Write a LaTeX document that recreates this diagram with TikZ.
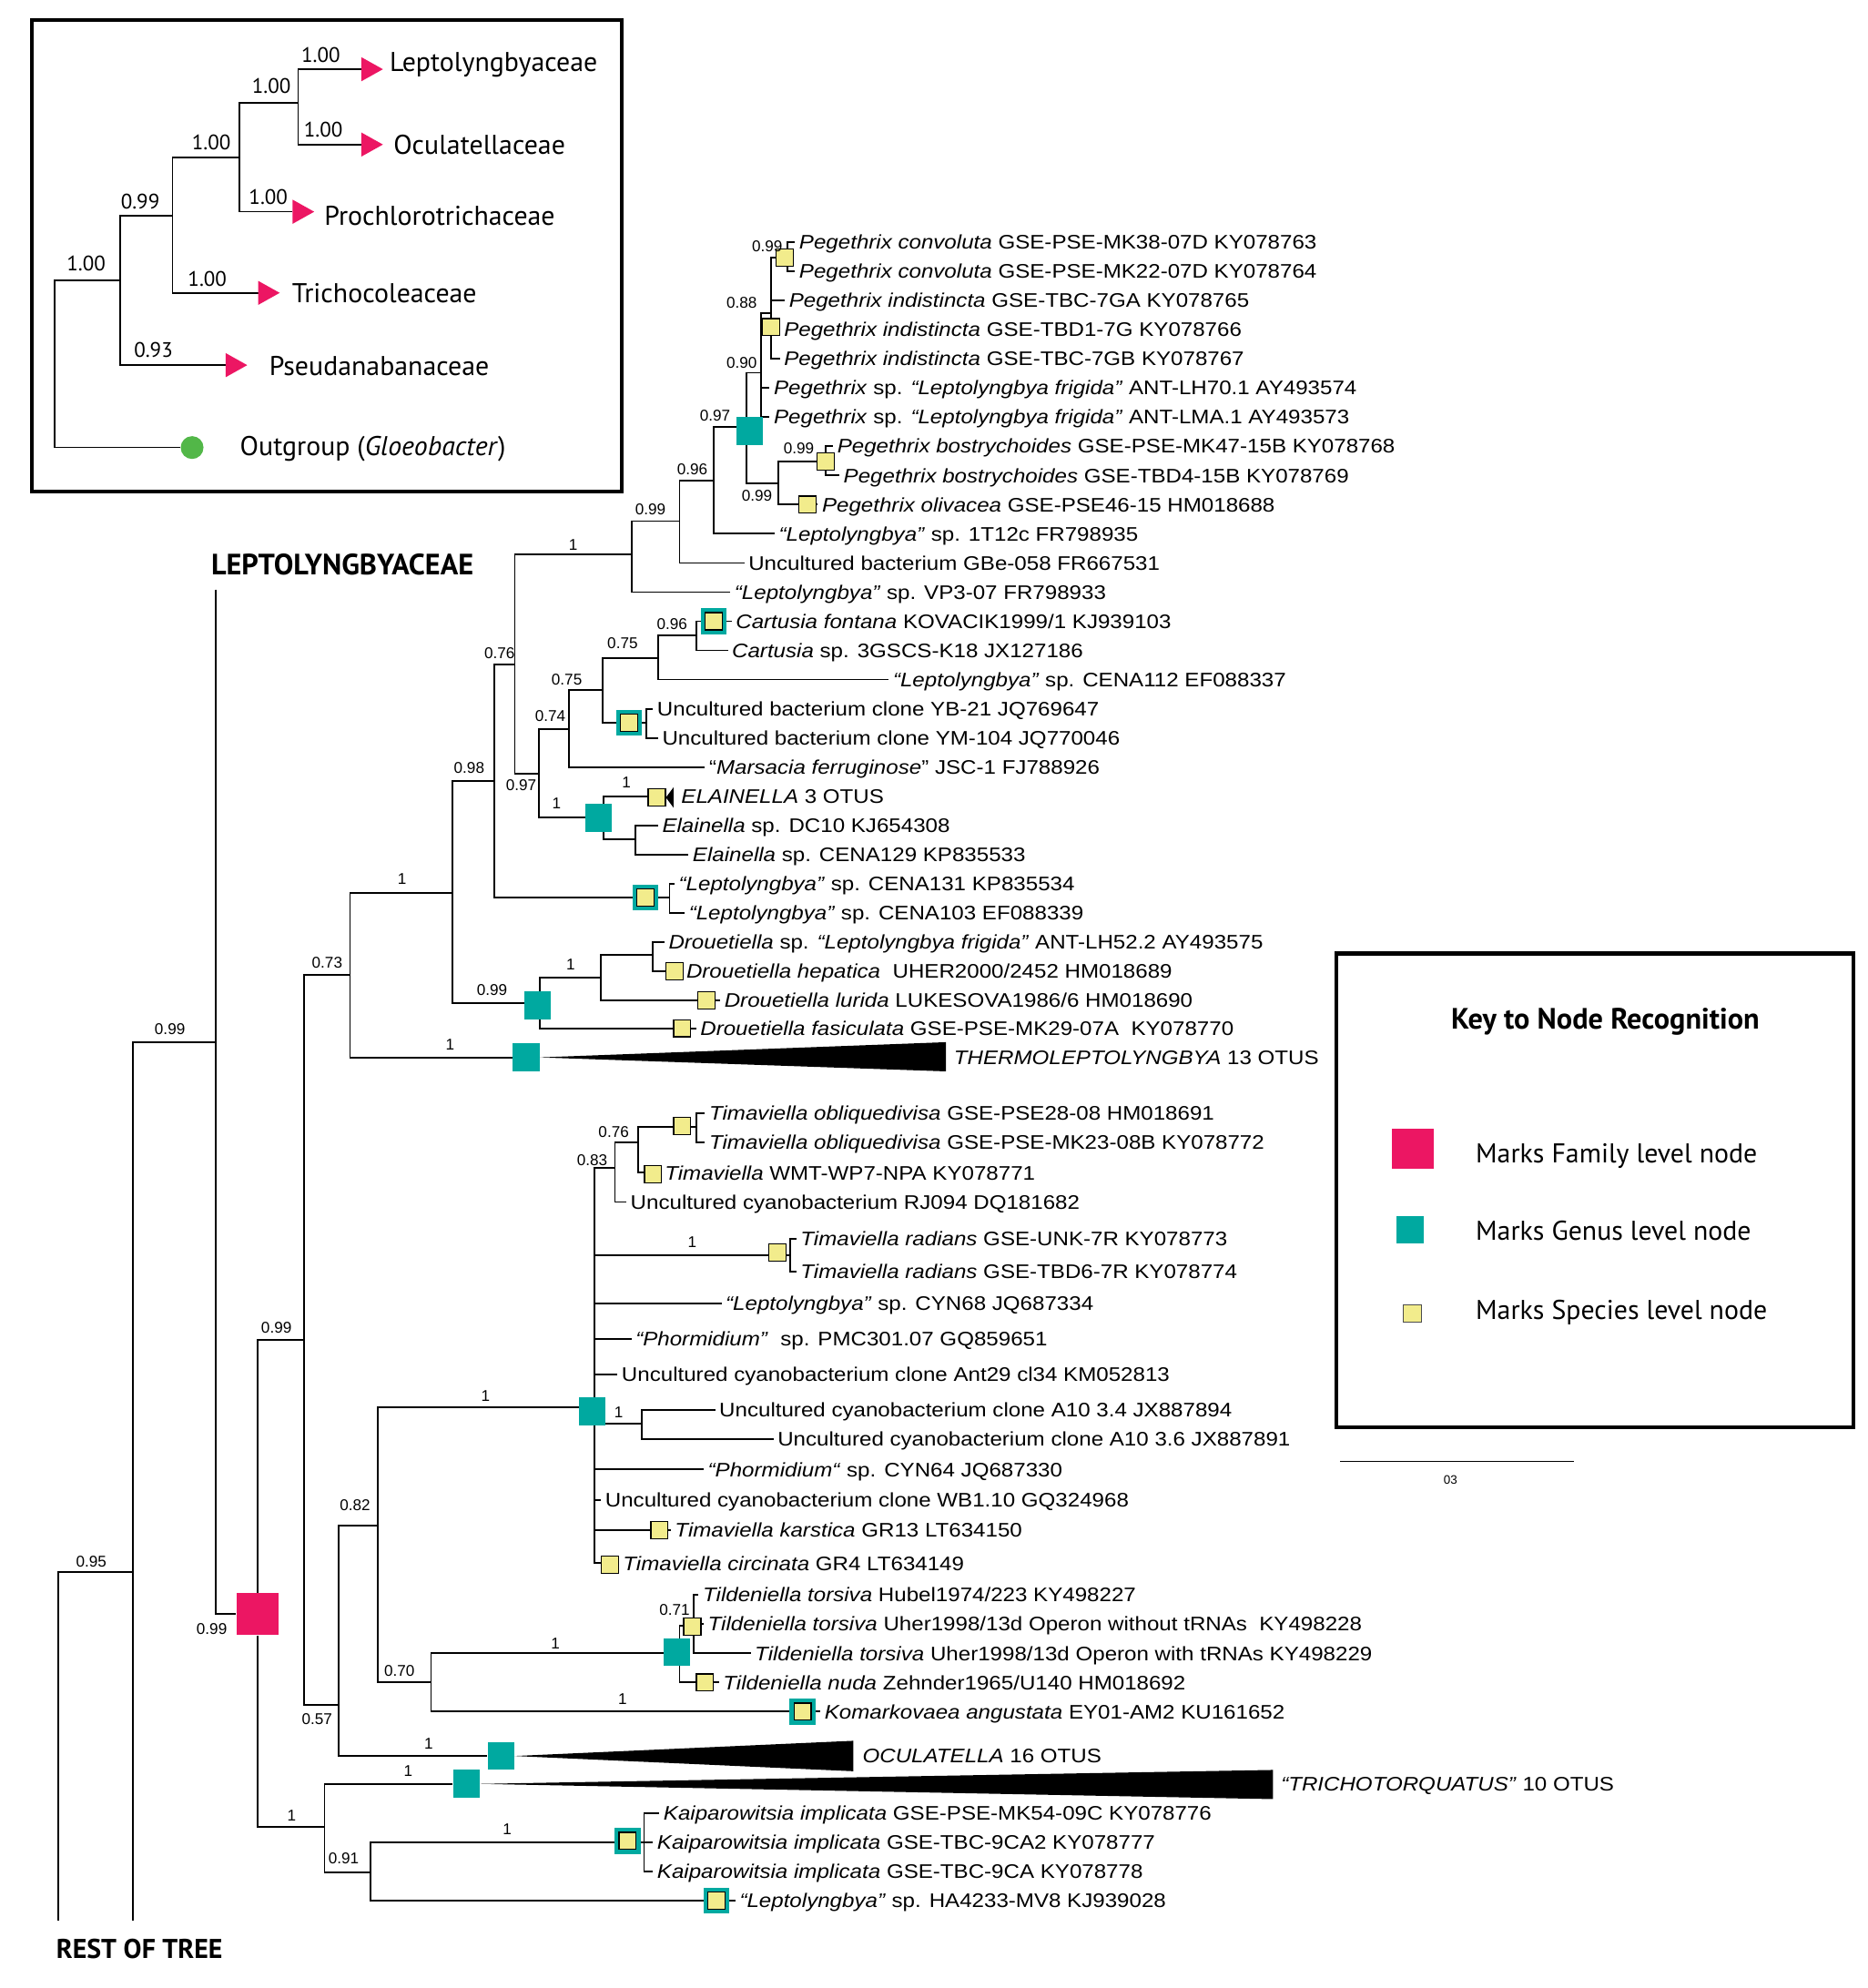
\documentclass[tikz,border=0pt]{standalone}
\usepackage{fontspec}
\setmainfont{Liberation Sans}
\newfontfamily\mytipf{Liberation Sans}[FakeStretch=1.12]
\newfontfamily\mylabf{Liberation Sans}
\newfontfamily\mymyr{PT Sans}
\newcommand\mytipfont{\mytipf\fontsize{8.8}{10}\selectfont}
\newcommand\mysupfont{\mylabf\fontsize{7}{8}\selectfont}
\newcommand\mybigfont{\mymyr\fontsize{12.2}{14}\selectfont}
\newcommand\myheadfont{\mymyr\fontsize{13.2}{15}\selectfont\bfseries}
\newcommand\myinsfont{\mymyr\fontsize{9.4}{11}\selectfont}
\newcommand\myscfont{\mylabf\fontsize{5.5}{6}\selectfont}
\definecolor{fpink}{RGB}{236,22,99}
\definecolor{gteal}{RGB}{0,169,160}
\definecolor{spyel}{RGB}{242,236,140}
\definecolor{ogreen}{RGB}{82,183,72}
\tikzset{
 br/.style={line width=0.75pt},
 ibr/.style={line width=0.65pt},
 tip/.style={anchor=west, font=\mytipfont, inner xsep=1.7pt, inner ysep=0pt, text height=6.3pt, text depth=0pt},
 sup/.style={font=\mysupfont, inner sep=0pt},
 isup/.style={font=\myinsfont, inner sep=0pt},
 ilab/.style={anchor=west, font=\mybigfont, inner sep=0pt, text height=8.5pt, text depth=0pt},
 head/.style={font=\mybigfont\bfseries, inner sep=0pt},
 bhead/.style={font=\myheadfont, inner sep=0pt},
 spq/.style={draw=black, line width=0.5pt, fill=spyel, minimum width=0.27cm, minimum height=0.27cm, inner sep=0pt},
 gnq/.style={fill=gteal, minimum width=0.42cm, minimum height=0.44cm, inner sep=0pt},
 gsq/.style={fill=gteal, minimum size=0.41cm, inner sep=0pt},
 fmq/.style={fill=fpink, minimum size=0.66cm, inner sep=0pt},
}
\begin{document}
\begin{tikzpicture}[x=0.02cm,y=-0.02cm]
\useasboundingbox (0,0) rectangle (1473,1568);

% ================= INSET =================
\draw[line width=1.7pt] (25,15.5) rectangle (490.5,387.5);
\coordinate (iRoot) at (43,287);
\coordinate (iN1) at (94.6,221);
\coordinate (iN2) at (136,170);
\coordinate (iN3) at (189,124);
\coordinate (iN4) at (235,81);
\coordinate (iLe) at (285,54.6);
\coordinate (iOc) at (285,114);
\coordinate (iPr) at (230.8,167);
\coordinate (iTr) at (203.6,231);
\coordinate (iPs) at (178,288);
\node[circle, fill=ogreen, minimum size=0.36cm, inner sep=0pt] (iOut) at (151.5,353) {};
\draw[ibr] (iRoot) |- (iN1);
\draw[ibr] (iRoot) |- (iOut);
\draw[ibr] (iN1) |- (iN2);
\draw[ibr] (iN1) |- (iPs);
\draw[ibr] (iN2) |- (iN3);
\draw[ibr] (iN2) |- (iTr);
\draw[ibr] (iN3) |- (iN4);
\draw[ibr] (iN3) |- (iPr);
\draw[ibr] (iN4) |- (iLe);
\draw[ibr] (iN4) |- (iOc);
\foreach \c in {iLe,iOc,iPr,iTr,iPs}{
  \fill[fpink] (\c) -- ++(0,-9.5) -- ++(17,9.5) -- ++(-17,9.5) -- cycle;
}
\node[ilab] (iLeT) at (307,49) {Leptolyngbyaceae};
\node[ilab] (iOcT) at (310,114) {Oculatellaceae};
\node[ilab] (iPrT) at (255.5,170.5) {Prochlorotrichaceae};
\node[ilab] (iTrT) at (230,231) {Trichocoleaceae};
\node[ilab] (iPsT) at (212,288.5) {Pseudanabanaceae};
\node[ilab] (iOuT) at (189,352) {Outgroup (\textit{Gloeobacter})};
\node[isup] (is1) at (253,43.6) {1.00};
\node[isup] (is2) at (214,68) {1.00};
\node[isup] (is3) at (255,102.6) {1.00};
\node[isup] (is4) at (211.6,155.7) {1.00};
\node[isup] (is5) at (166.7,112) {1.00};
\node[isup] (is6) at (163.5,220) {1.00};
\node[isup] (is7) at (110.6,159) {0.99};
\node[isup] (is8) at (68,208) {1.00};
\node[isup] (is9) at (121,276) {0.93};

% ================= HEADINGS =================
\node[bhead] (hLep) at (270,445) {LEPTOLYNGBYACEAE};
\node[head] (hRest) at (110,1537) {REST OF TREE};

% ================= TIP LABELS =================
\node[tip] (tConv1) at (627,191) {\textit{Pegethrix convoluta} GSE-PSE-MK38-07D KY078763};
\node[tip] (tConv2) at (627,214) {\textit{Pegethrix convoluta} GSE-PSE-MK22-07D KY078764};
\node[tip] (tInd1) at (619,237) {\textit{Pegethrix indistincta} GSE-TBC-7GA KY078765};
\node[tip] (tInd2) at (615,260) {\textit{Pegethrix indistincta} GSE-TBD1-7G KY078766};
\node[tip] (tInd3) at (615,283) {\textit{Pegethrix indistincta} GSE-TBC-7GB KY078767};
\node[tip] (tLH70) at (607,306) {\textit{Pegethrix} sp. \textit{“Leptolyngbya frigida”} ANT-LH70.1 AY493574};
\node[tip] (tLMA) at (607,329) {\textit{Pegethrix} sp. \textit{“Leptolyngbya frigida”} ANT-LMA.1 AY493573};
\node[tip] (tBos1) at (657,352) {\textit{Pegethrix bostrychoides} GSE-PSE-MK47-15B KY078768};
\node[tip] (tBos2) at (662,375) {\textit{Pegethrix bostrychoides} GSE-TBD4-15B KY078769};
\node[tip] (tOliv) at (645,398) {\textit{Pegethrix olivacea} GSE-PSE46-15 HM018688};
\node[tip] (t1T12c) at (611,421) {\textit{“Leptolyngbya”} sp. 1T12c FR798935};
\node[tip] (tGBe) at (587,444) {Uncultured bacterium GBe-058 FR667531};
\node[tip] (tVP3) at (576,467) {\textit{“Leptolyngbya”} sp. VP3-07 FR798933};
\node[tip] (tCf) at (577,490) {\textit{Cartusia fontana} KOVACIK1999/1 KJ939103};
\node[tip] (tCsp) at (574,513) {\textit{Cartusia} sp. 3GSCS-K18 JX127186};
\node[tip] (tC112) at (701,536) {\textit{“Leptolyngbya”} sp. CENA112 EF088337};
\node[tip] (tYB) at (515,559) {Uncultured bacterium clone YB-21 JQ769647};
\node[tip] (tYM) at (519,582) {Uncultured bacterium clone YM-104 JQ770046};
\node[tip] (tMars) at (556,605) {“\textit{Marsacia ferruginose}” JSC-1 FJ788926};
\node[tip] (tEla) at (534,628) {\textit{ELAINELLA} 3 OTUS};
\node[tip] (tDC10) at (519,651) {\textit{Elainella} sp. DC10 KJ654308};
\node[tip] (tC129) at (543,674) {\textit{Elainella} sp. CENA129 KP835533};
\node[tip] (tC131) at (532,697) {\textit{“Leptolyngbya”} sp. CENA131 KP835534};
\node[tip] (tC103) at (540,720) {\textit{“Leptolyngbya”} sp. CENA103 EF088339};
\node[tip] (tDsp) at (524,743) {\textit{Drouetiella} sp. \textit{“Leptolyngbya frigida”} ANT-LH52.2 AY493575};
\node[tip] (tHep) at (538,766) {\textit{Drouetiella hepatica}\ \ UHER2000/2452 HM018689};
\node[tip] (tLur) at (568,789) {\textit{Drouetiella lurida} LUKESOVA1986/6 HM018690};
\node[tip] (tFas) at (549,811) {\textit{Drouetiella fasiculata} GSE-PSE-MK29-07A\ \ KY078770};
\node[tip] (tTh) at (749,834) {\textit{THERMOLEPTOLYNGBYA} 13 OTUS};
\node[tip] (tObl1) at (556,878) {\textit{Timaviella obliquedivisa} GSE-PSE28-08 HM018691};
\node[tip] (tObl2) at (556,901) {\textit{Timaviella obliquedivisa} GSE-PSE-MK23-08B KY078772};
\node[tip] (tWMT) at (521,925) {\textit{Timaviella} WMT-WP7-NPA KY078771};
\node[tip] (tRJ) at (494,948) {Uncultured cyanobacterium RJ094 DQ181682};
\node[tip] (tRad1) at (628,977) {\textit{Timaviella radians} GSE-UNK-7R KY078773};
\node[tip] (tRad2) at (628,1003) {\textit{Timaviella radians} GSE-TBD6-7R KY078774};
\node[tip] (tCYN68) at (569,1028) {\textit{“Leptolyngbya”} sp. CYN68 JQ687334};
\node[tip] (tPMC) at (498,1056) {\textit{“Phormidium”}\ \ sp. PMC301.07 GQ859651};
\node[tip] (tAnt) at (487,1084) {Uncultured cyanobacterium clone Ant29 cl34 KM052813};
\node[tip] (tA34) at (564,1112) {Uncultured cyanobacterium clone A10 3.4 JX887894};
\node[tip] (tA36) at (610,1135) {Uncultured cyanobacterium clone A10 3.6 JX887891};
\node[tip] (tCYN64) at (555,1159) {\textit{“Phormidium“} sp. CYN64 JQ687330};
\node[tip] (tWB) at (474,1183) {Uncultured cyanobacterium clone WB1.10 GQ324968};
\node[tip] (tKar) at (529,1207) {\textit{Timaviella karstica} GR13 LT634150};
\node[tip] (tCir) at (488,1233) {\textit{Timaviella circinata} GR4 LT634149};
\node[tip] (tHub) at (551,1258) {\textit{Tildeniella torsiva} Hubel1974/223 KY498227};
\node[tip] (tWo) at (555,1281) {\textit{Tildeniella torsiva} Uher1998/13d Operon without tRNAs\ \ KY498228};
\node[tip] (tWi) at (592,1304) {\textit{Tildeniella torsiva} Uher1998/13d Operon with tRNAs KY498229};
\node[tip] (tNuda) at (567,1327) {\textit{Tildeniella nuda} Zehnder1965/U140 HM018692};
\node[tip] (tKom) at (647,1350) {\textit{Komarkovaea angustata} EY01-AM2 KU161652};
\node[tip] (tOcu) at (677,1385) {\textit{OCULATELLA} 16 OTUS};
\node[tip] (tTri) at (1007,1407) {\textit{“TRICHOTORQUATUS”} 10 OTUS};
\node[tip] (tK1) at (520,1430) {\textit{Kaiparowitsia implicata} GSE-PSE-MK54-09C KY078776};
\node[tip] (tK2) at (515,1453) {\textit{Kaiparowitsia implicata} GSE-TBC-9CA2 KY078777};
\node[tip] (tK3) at (515,1476) {\textit{Kaiparowitsia implicata} GSE-TBC-9CA KY078778};
\node[tip] (tHA) at (580,1499) {\textit{“Leptolyngbya”} sp. HA4233-MV8 KJ939028};

% ================= INTERNAL NODE COORDINATES =================
\coordinate (rA) at (46,1515);
\coordinate (rB) at (105,1515);
\coordinate (n095) at (105,1240);
\coordinate (n099a) at (170,822);
\coordinate (fTop) at (170,465);
\coordinate (fBot) at (170,1273);
\coordinate (nL) at (240,1057);
\coordinate (nA) at (276,769);
\coordinate (n098) at (357,704);
\coordinate (nB) at (390,616);
\coordinate (n076) at (406,524);
\coordinate (nC1) at (498,437);
\coordinate (n099c) at (536,411);
\coordinate (n096) at (563,379);
\coordinate (nGP) at (589,337);
\coordinate (n090) at (600,294);
\coordinate (n088) at (608,247);
\coordinate (nConv) at (621,203);
\coordinate (n099o) at (614,381);
\coordinate (nBos) at (651,364);
\coordinate (n097e) at (425,610);
\coordinate (n074) at (449,575);
\coordinate (n075a) at (475,544);
\coordinate (n075b) at (519,519);
\coordinate (n096c) at (549,501);
\coordinate (nYB) at (510,570);
\coordinate (nEl) at (476,645);
\coordinate (nEl2) at (501,662);
\coordinate (nCe) at (528,708);
\coordinate (nDr) at (426,791);
\coordinate (nDr1) at (474,771);
\coordinate (nDr2) at (515,753);
\coordinate (n057) at (267,1345);
\coordinate (n082) at (298,1203);
\coordinate (nTim) at (469,1110);
\coordinate (n070) at (340,1327);
\coordinate (n083) at (485,921);
\coordinate (n076t) at (503,901);
\coordinate (nObl) at (549,889);
\coordinate (nRad) at (623,990);
\coordinate (nA10) at (506,1123);
\coordinate (nTil) at (536,1304);
\coordinate (n071) at (547,1282);
\coordinate (nT1) at (256,1441);
\coordinate (n091) at (292,1477);
\coordinate (nKai) at (508,1453);
\coordinate (eEla) at (511,628);

% nodes that branches end on
\node[fmq] (pink) at (203,1273) {};
\node[gnq] (gTh) at (415,834) {};
\node[gnq] (gOc) at (395,1385) {};
\node[gnq] (gTr) at (368,1407) {};

% ================= BRANCHES =================
\begin{scope}[br]
\draw (rA) |- (n095);
\draw (rB) |- (n099a);
\draw (fTop) -- (fBot) -- (pink);
\draw (pink) |- (nL);
\draw (pink) |- (nT1);
\draw (nL) |- (nA);
\draw (nL) |- (n057);
\draw (nA) |- (n098);
\draw (nA) |- (gTh);
\draw (n098) |- (nB);
\draw (n098) |- (nDr);
\draw (nB) |- (n076);
\draw (nB) |- (nCe);
\draw (n076) |- (nC1);
\draw (n076) |- (n097e);
\draw (nC1) |- (n099c);
\draw (nC1) |- (tVP3.west);
\draw (n099c) |- (n096);
\draw (n099c) |- (tGBe.west);
\draw (n096) |- (nGP);
\draw (n096) |- (t1T12c.west);
\draw (nGP) |- (n090);
\draw (nGP) |- (n099o);
\draw (n090) |- (n088);
\draw (n090) |- (tLH70.west);
\draw (n090) |- (tLMA.west);
\draw (n088) |- (nConv);
\draw (n088) |- (tInd1.west);
\draw (n088) |- (tInd2.west);
\draw (n088) |- (tInd3.west);
\draw (nConv) |- (tConv1.west);
\draw (nConv) |- (tConv2.west);
\draw (n099o) |- (nBos);
\draw (n099o) |- (tOliv.west);
\draw (nBos) |- (tBos1.west);
\draw (nBos) |- (tBos2.west);
\draw (n097e) |- (n074);
\draw (n097e) |- (nEl);
\draw (n074) |- (n075a);
\draw (n074) |- (tMars.west);
\draw (n075a) |- (n075b);
\draw (n075a) |- (nYB);
\draw (n075b) |- (n096c);
\draw (n075b) |- (tC112.west);
\draw (n096c) |- (tCf.west);
\draw (n096c) |- (tCsp.west);
\draw (nYB) |- (tYB.west);
\draw (nYB) |- (tYM.west);
\draw (nEl) |- (eEla);
\draw (nEl) |- (nEl2);
\draw (nEl2) |- (tDC10.west);
\draw (nEl2) |- (tC129.west);
\draw (nCe) |- (tC131.west);
\draw (nCe) |- (tC103.west);
\draw (nDr) |- (nDr1);
\draw (nDr) |- (tFas.west);
\draw (nDr1) |- (nDr2);
\draw (nDr1) |- (tLur.west);
\draw (nDr2) |- (tDsp.west);
\draw (nDr2) |- (tHep.west);
\draw (n057) |- (n082);
\draw (n057) |- (gOc);
\draw (n082) |- (nTim);
\draw (n082) |- (n070);
\draw (nTim) |- (n083);
\draw (nTim) |- (nRad);
\draw (nTim) |- (tCYN68.west);
\draw (nTim) |- (tPMC.west);
\draw (nTim) |- (tAnt.west);
\draw (nTim) |- (nA10);
\draw (nTim) |- (tCYN64.west);
\draw (nTim) |- (tWB.west);
\draw (nTim) |- (tKar.west);
\draw (nTim) |- (tCir.west);
\draw (n083) |- (n076t);
\draw (n083) |- (tRJ.west);
\draw (n076t) |- (nObl);
\draw (n076t) |- (tWMT.west);
\draw (nObl) |- (tObl1.west);
\draw (nObl) |- (tObl2.west);
\draw (nRad) |- (tRad1.west);
\draw (nRad) |- (tRad2.west);
\draw (nA10) |- (tA34.west);
\draw (nA10) |- (tA36.west);
\draw (n070) |- (nTil);
\draw (n070) |- (tKom.west);
\draw (nTil) |- (n071);
\draw (nTil) |- (tNuda.west);
\draw (n071) |- (tHub.west);
\draw (n071) |- (tWo.west);
\draw (n071) |- (tWi.west);
\draw (nT1) |- (gTr);
\draw (nT1) |- (n091);
\draw (n091) |- (nKai);
\draw (n091) |- (tHA.west);
\draw (nKai) |- (tK1.west);
\draw (nKai) |- (tK2.west);
\draw (nKai) |- (tK3.west);
\end{scope}

% ================= COLLAPSED CLADES =================
\fill (gTh.east) -- (746,822) -- (746,845) -- cycle;
\fill (gOc.east) -- (673,1373) -- (673,1397) -- cycle;
\fill (gTr.east) -- (1004,1396) -- (1004,1419) -- cycle;

% ================= NODE MARKERS =================
% genus
\node[gnq] (gPeg) at (591,340) {};
\node[gnq] (gEla) at (472,645) {};
\node[gnq] (gDro) at (424,793) {};
\node[gnq] (gTim) at (467,1113) {};
\node[gnq] (gTil) at (534,1303) {};
% genus + species
\foreach \nm/\px/\py in {Cf/563/490, YB/496/570, Ce/509/708, Ko/633/1350, Ka/495/1452, HA/565/1499}{
  \node[gsq] (gs\nm) at (\px,\py) {};
  \node[spq] (ss\nm) at (gs\nm) {};
}
% species
\node[spq] (sConv) at (619,203) {};
\node[spq] (sInd) at (608,258) {};
\node[spq] (sBos) at (651,364) {};
\node[spq] (sOli) at (637,398) {};
\node[spq] (sEla) at (518,629) {};
\node[spq] (sHep) at (532,766) {};
\node[spq] (sLur) at (557,789) {};
\node[spq] (sFas) at (538,811) {};
\node[spq] (sObl) at (538,888) {};
\node[spq] (sWMT) at (515,926) {};
\node[spq] (sRad) at (613,988) {};
\node[spq] (sKar) at (520,1207) {};
\node[spq] (sCir) at (481,1234) {};
\node[spq] (sTor) at (546,1283) {};
\node[spq] (sNud) at (556,1327) {};
\fill (sEla.east) -- ++(6,-8) -- ++(0,16) -- cycle;

% ================= SUPPORT VALUES =================
\foreach \px/\py/\v [count=\i] in {
 605/194/0.99, 585/239/0.88, 585/286/0.90, 564/328/0.97, 630/354/0.99,
 597/391/0.99, 546/370/0.96, 513/402/0.99, 452/430/1, 394/515/0.76,
 491/507/0.75, 530/492/0.96, 447/536/0.75, 434/565/0.74, 411/619/0.97,
 439/634/1, 494/617/1, 370/606/0.98, 317/693/1, 388/781/0.99,
 450/761/1, 258/759/0.73, 355/824/1, 484/893/0.76, 467/915/0.83,
 546/980/1, 383/1101/1, 488/1114/1, 218/1047/0.99, 280/1187/0.82,
 532/1270/0.71, 438/1296/1, 315/1318/0.70, 491/1340/1, 250/1356/0.57,
 338/1375/1, 322/1397/1, 230/1432/1, 271/1466/0.91, 400/1443/1,
 167/1285/0.99, 134/812/0.99, 72/1232/0.95}{
  \node[sup] (sv\i) at (\px,\py) {\v};
}

% ================= LEGEND =================
\draw[line width=1.7pt] (1054,752) rectangle (1461.5,1126);
\node[bhead] (kTitle) at (1266,806) {Key to Node Recognition};
\node[fill=fpink, minimum width=0.66cm, minimum height=0.64cm, inner sep=0pt] (kFam) at (1114.5,906) {};
\node[fill=gteal, minimum size=0.43cm, inner sep=0pt] (kGen) at (1112,970) {};
\node[spq, draw=black!70, line width=0.4pt, minimum size=0.28cm] (kSp) at (1114,1036) {};
\node[ilab] (kFamT) at (1163.5,910) {Marks Family level node};
\node[ilab] (kGenT) at (1163.5,971) {Marks Genus level node};
\node[ilab] (kSpT) at (1163.5,1033) {Marks Species level node};

% scale bar
\coordinate (scA) at (1057,1152.7);
\coordinate (scB) at (1241,1152.7);
\draw[line width=0.6pt] (scA) -- (scB);
\node[font=\myscfont, inner sep=0pt] (scT) at (1144,1167) {03};
\end{tikzpicture}
\end{document}
